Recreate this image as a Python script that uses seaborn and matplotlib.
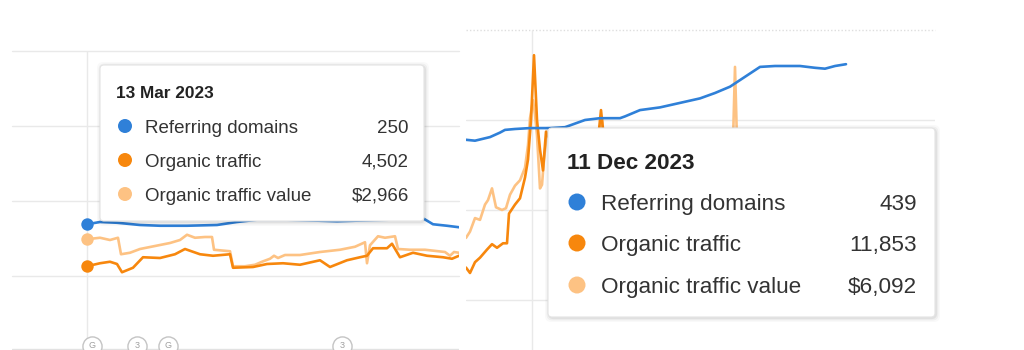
import matplotlib
matplotlib.use("Agg")
import matplotlib.pyplot as plt
import pandas as pd
import seaborn as sns
from matplotlib.patches import FancyBboxPatch, Circle

# ---------------- data (chart units: horizontal grid lines at 1, 2, 3, 4) ----------------
series_names = ["Referring domains", "Organic traffic", "Organic traffic value"]

# left screenshot (x = days from 13 Mar 2023)
left_date = "13 Mar 2023"
left_values = ["250", "4,502", "$2,966"]
left_ref_x = [0, 13, 30, 53, 73, 100, 130, 150, 170, 200, 250, 300, 336, 346, 360, 372]
left_ref_y = [1.69, 1.72, 1.71, 1.68, 1.67, 1.67, 1.68, 1.72, 1.75, 1.75, 1.73, 1.75, 1.77, 1.69, 1.67, 1.65]
left_traffic_x = [0, 13, 23, 30, 35, 46, 56, 73, 88, 98, 113, 126, 143, 146, 166, 180, 196, 213, 233,
                  243, 260, 273, 280, 286, 300, 305, 313, 326, 340, 356, 365, 372]
left_traffic_y = [1.13, 1.17, 1.19, 1.16, 1.05, 1.11, 1.25, 1.24, 1.29, 1.36, 1.29, 1.27, 1.29, 1.11,
                  1.12, 1.16, 1.17, 1.15, 1.21, 1.12, 1.21, 1.25, 1.27, 1.37, 1.37, 1.43, 1.25, 1.31,
                  1.27, 1.25, 1.23, 1.27]
left_value_x = [0, 13, 23, 31, 34, 43, 53, 68, 83, 93, 100, 108, 118, 125, 127, 143, 146, 158, 168, 175,
                183, 187, 191, 198, 213, 233, 253, 268, 278, 280, 283, 291, 298, 308, 311, 323, 338,
                358, 363, 367, 372]
left_value_y = [1.49, 1.51, 1.48, 1.51, 1.29, 1.31, 1.36, 1.40, 1.44, 1.48, 1.55, 1.51, 1.52, 1.52, 1.35,
                1.33, 1.13, 1.13, 1.15, 1.19, 1.23, 1.27, 1.24, 1.28, 1.28, 1.32, 1.35, 1.39, 1.45, 1.17,
                1.41, 1.53, 1.51, 1.53, 1.36, 1.35, 1.35, 1.32, 1.27, 1.32, 1.31]
left_annotation_x = [5, 50, 81, 255]
left_annotation_labels = ["G", "3", "G", "3"]

# right screenshot (x = days from 11 Dec 2023)
right_date = "11 Dec 2023"
right_values = ["439", "11,853", "$6,092"]
right_ref_x = [-66, -57, -42, -32, -27, -17, -2, 18, 33, 43, 53, 68, 88, 93, 108, 128, 148, 168, 183,
               198, 213, 228, 243, 268, 283, 293, 303, 314]
right_ref_y = [2.78, 2.77, 2.81, 2.86, 2.89, 2.90, 2.91, 2.91, 2.92, 2.96, 3.00, 3.02, 3.02, 3.04, 3.11,
               3.14, 3.19, 3.24, 3.30, 3.37, 3.48, 3.59, 3.60, 3.60, 3.58, 3.57, 3.60, 3.62]
right_traffic_x = [-66, -62, -57, -52, -45, -40, -35, -29, -25, -23, -17, -12, -7, -4, -1, 2, 5, 8, 11,
                   14, 18, 48, 66, 69, 72, 118, 168, 228, 314]
right_traffic_y = [1.36, 1.30, 1.42, 1.47, 1.56, 1.62, 1.58, 1.63, 1.63, 1.96, 2.06, 2.13, 2.36, 2.56,
                   3.00, 3.72, 3.00, 2.67, 2.44, 2.87, 2.78, 2.80, 2.78, 3.11, 2.78, 2.76, 2.78, 2.80, 2.78]
right_value_x = [-66, -62, -57, -52, -47, -44, -40, -36, -30, -26, -22, -17, -12, -7, -4, -2, 1, 3, 5, 8,
                 10, 12, 15, 28, 68, 70, 72, 201, 203, 205, 314]
right_value_y = [1.69, 1.76, 1.91, 1.89, 2.06, 2.11, 2.24, 2.03, 2.00, 2.02, 2.17, 2.27, 2.33, 2.47, 2.72,
                 3.02, 3.22, 3.06, 2.83, 2.24, 2.28, 2.56, 2.87, 2.78, 2.78, 3.02, 2.78, 2.76, 3.59, 2.76,
                 2.76]

# ---------------- style ----------------
sns.set_style("white")
plt.rcParams["font.family"] = ["Liberation Sans", "DejaVu Sans"]

BLUE = "#2f80d8"
ORANGE = "#f7870d"
LIGHT = "#fdc283"
TEXT = "#333333"
GRID = "#e9e9e9"
colors = [BLUE, ORANGE, LIGHT]

W, H, DPI = 1024, 350, 100
fig = plt.figure(figsize=(W / DPI, H / DPI), dpi=DPI)
fig.patch.set_facecolor("white")


def px_axes(x0, y0, x1, y1):
    return fig.add_axes([x0 / W, 1 - y1 / H, (x1 - x0) / W, (y1 - y0) / H])


def draw_series(ax, xs, ys, color, z):
    df = pd.DataFrame({"x": xs, "y": ys})
    sns.lineplot(data=df, x="x", y="y", ax=ax, color=color, lw=1.9, sort=False,
                 estimator=None, zorder=z)


# ---- left panel ----
axL = px_axes(12, 51, 459, 350)
axL.set_xlim(-75, 372)
axL.set_ylim(4.68 - 350 / 75, 4.0)
for yv in [1, 2, 3, 4]:
    axL.axhline(yv, color=GRID, lw=1.0, zorder=0, clip_on=False)
axL.axhline(4.68 - 349 / 75, color="#e2e2e2", lw=1.0, zorder=0)
axL.axvline(0, color=GRID, lw=1.0, zorder=0)
draw_series(axL, left_value_x, left_value_y, LIGHT, 2)
draw_series(axL, left_traffic_x, left_traffic_y, ORANGE, 3)
draw_series(axL, left_ref_x, left_ref_y, BLUE, 4)
for xs, ys, c in [(left_ref_x, left_ref_y, BLUE), (left_traffic_x, left_traffic_y, ORANGE),
                  (left_value_x, left_value_y, LIGHT)]:
    axL.scatter([xs[0]], [ys[0]], s=80, color=c, zorder=5, clip_on=False, linewidths=0)
ann_y = 4.68 - 346 / 75
for ax_x, lab in zip(left_annotation_x, left_annotation_labels):
    axL.scatter([ax_x], [ann_y], s=190, facecolor="white", edgecolor="#c4c4c4", lw=1.0,
                zorder=6, clip_on=False)
    axL.text(ax_x, ann_y, lab, ha="center", va="center", fontsize=6.5, color="#a0a0a0",
             zorder=7, clip_on=False)

# ---- right panel ----
axR = px_axes(466, 30, 935, 350)
axR.set_xlim(-66, 403)
axR.set_ylim(4.333 - 350 / 90, 4.0)
for yv in [1, 2, 3]:
    axR.axhline(yv, color=GRID, lw=1.0, zorder=0)
axR.axhline(4, color="#dedede", lw=1.0, ls=(0, (1, 1.5)), zorder=0, clip_on=False)
axR.axvline(0, color=GRID, lw=1.0, zorder=0)
draw_series(axR, right_value_x, right_value_y, LIGHT, 2)
draw_series(axR, right_traffic_x, right_traffic_y, ORANGE, 3)
draw_series(axR, right_ref_x, right_ref_y, BLUE, 4)

for ax in (axL, axR):
    ax.set_axis_off()

# ---------------- tooltips ----------------
tr = fig.dpi_scale_trans


def P(x, y):
    return x / DPI, (H - y) / DPI


def tooltip(box, date, values, date_pos, date_fs, rows_y, dot_x, dot_r, label_x, value_x, fs):
    x0, y0, x1, y1 = box
    for k, a in [(4, 0.025), (2.5, 0.04), (1.2, 0.06)]:
        sh = FancyBboxPatch(P(x0 - k + 1, y1 + k + 1), (x1 - x0 + 2 * k) / DPI, (y1 - y0 + 2 * k) / DPI,
                            boxstyle="round,pad=0,rounding_size=0.06", transform=tr,
                            facecolor="black", edgecolor="none", alpha=a, zorder=9)
        fig.add_artist(sh)
    bx = FancyBboxPatch(P(x0, y1), (x1 - x0) / DPI, (y1 - y0) / DPI,
                        boxstyle="round,pad=0,rounding_size=0.04", transform=tr,
                        facecolor="white", edgecolor="#e4e4e4", lw=0.8, zorder=10)
    fig.add_artist(bx)
    dx, dy = date_pos
    fig.text(*P(dx, dy + date_fs * 1.389 * 0.36), date, transform=tr, fontsize=date_fs,
             fontweight="bold", color="#222222", ha="left", va="baseline", zorder=11)
    for name, val, c, ry in zip(series_names, values, colors, rows_y):
        fig.add_artist(Circle(P(dot_x, ry), dot_r / DPI, transform=tr, facecolor=c,
                              edgecolor="none", zorder=11))
        base = ry + fs * 1.389 * 0.36
        fig.text(*P(label_x, base), name, transform=tr, fontsize=fs, color=TEXT,
                 ha="left", va="baseline", zorder=11)
        fig.text(*P(value_x, base), val, transform=tr, fontsize=fs, color=TEXT,
                 ha="right", va="baseline", zorder=11)


tooltip((100, 65, 424, 221), left_date, left_values, (116, 92), 12.4,
        [126, 160, 194], 125, 7, 145, 409, 13.5)
tooltip((548, 128, 935, 317), right_date, right_values, (567, 161), 16.2,
        [202, 243, 285], 577, 8.5, 601, 917, 16.2)

fig.savefig("out.png", dpi=DPI, facecolor="white")
